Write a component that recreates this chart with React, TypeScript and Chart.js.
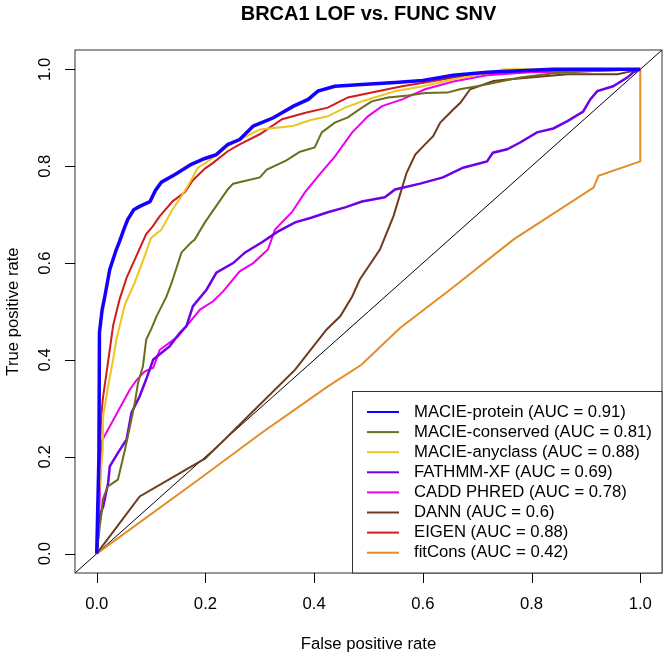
import React, { useEffect, useRef } from "react";
import { Chart, registerables } from "chart.js";

Chart.register(...registerables);

const chartTitle = "BRCA1 LOF vs. FUNC SNV";
const xAxisTitle = "False positive rate";
const yAxisTitle = "True positive rate";
const tickValues = [0, 0.2, 0.4, 0.6, 0.8, 1.0];
const tickLabels = ["0.0", "0.2", "0.4", "0.6", "0.8", "1.0"];

const seriesNames = [
  "MACIE-protein (AUC = 0.91)",
  "MACIE-conserved (AUC = 0.81)",
  "MACIE-anyclass (AUC = 0.88)",
  "FATHMM-XF (AUC = 0.69)",
  "CADD PHRED (AUC = 0.78)",
  "DANN (AUC = 0.6)",
  "EIGEN (AUC = 0.88)",
  "fitCons (AUC = 0.42)",
];
const seriesColors = [
  "#1400FF",
  "#6B6E1C",
  "#EEC41E",
  "#7000E8",
  "#EE00EE",
  "#6E3B1E",
  "#D01C1C",
  "#E38C2A",
];

const macieProteinFpr = [0, 0.004, 0.005, 0.010, 0.015, 0.024, 0.036, 0.042, 0.05, 0.057, 0.068, 0.079, 0.098, 0.108, 0.119, 0.144, 0.174, 0.199, 0.22, 0.241, 0.263, 0.288, 0.325, 0.362, 0.389, 0.407, 0.438, 0.488, 0.549, 0.6, 0.656, 0.718, 0.84, 1];
const macieProteinTpr = [0, 0.2, 0.457, 0.504, 0.532, 0.587, 0.628, 0.645, 0.67, 0.69, 0.71, 0.717, 0.727, 0.75, 0.767, 0.783, 0.804, 0.816, 0.824, 0.845, 0.855, 0.883, 0.9, 0.924, 0.938, 0.955, 0.965, 0.969, 0.973, 0.977, 0.988, 0.994, 1.0, 1];

const macieConservedFpr = [0, 0.006, 0.009, 0.011, 0.02, 0.03, 0.039, 0.052, 0.061, 0.07, 0.076, 0.085, 0.091, 0.1, 0.11, 0.119, 0.128, 0.138, 0.156, 0.174, 0.18, 0.199, 0.22, 0.241, 0.251, 0.3, 0.313, 0.349, 0.374, 0.401, 0.414, 0.438, 0.462, 0.488, 0.506, 0.536, 0.573, 0.604, 0.645, 0.668, 0.718, 0.779, 0.84, 0.902, 1];
const macieConservedTpr = [0, 0.06, 0.085, 0.112, 0.138, 0.146, 0.153, 0.215, 0.262, 0.311, 0.353, 0.387, 0.442, 0.463, 0.49, 0.51, 0.53, 0.56, 0.622, 0.643, 0.648, 0.684, 0.718, 0.752, 0.764, 0.777, 0.793, 0.812, 0.83, 0.839, 0.87, 0.89, 0.901, 0.921, 0.934, 0.942, 0.946, 0.951, 0.952, 0.959, 0.969, 0.983, 0.992, 0.996, 1];

const macieAnyclassFpr = [0, 0.004, 0.011, 0.012, 0.02, 0.03, 0.036, 0.045, 0.052, 0.07, 0.088, 0.1, 0.119, 0.138, 0.156, 0.171, 0.186, 0.199, 0.214, 0.241, 0.263, 0.3, 0.361, 0.392, 0.425, 0.457, 0.488, 0.517, 0.549, 0.6, 0.65, 0.75, 1];
const macieAnyclassTpr = [0, 0.12, 0.215, 0.284, 0.34, 0.40, 0.442, 0.483, 0.515, 0.56, 0.614, 0.652, 0.669, 0.708, 0.738, 0.766, 0.797, 0.806, 0.818, 0.841, 0.855, 0.876, 0.883, 0.895, 0.903, 0.921, 0.934, 0.944, 0.955, 0.965, 0.978, 1.0, 1];

const fathmmFpr = [0, 0.005, 0.012, 0.021, 0.024, 0.039, 0.055, 0.064, 0.079, 0.091, 0.104, 0.125, 0.134, 0.153, 0.165, 0.177, 0.202, 0.22, 0.251, 0.273, 0.304, 0.333, 0.365, 0.396, 0.425, 0.457, 0.488, 0.53, 0.549, 0.595, 0.637, 0.674, 0.718, 0.729, 0.755, 0.779, 0.81, 0.84, 0.866, 0.895, 0.908, 0.921, 0.95, 0.976, 0.987, 1];
const fathmmTpr = [0, 0.077, 0.098, 0.146, 0.18, 0.208, 0.236, 0.291, 0.325, 0.36, 0.401, 0.42, 0.428, 0.456, 0.47, 0.511, 0.545, 0.58, 0.6, 0.622, 0.643, 0.665, 0.684, 0.694, 0.705, 0.715, 0.727, 0.736, 0.752, 0.764, 0.777, 0.797, 0.81, 0.828, 0.835, 0.849, 0.87, 0.878, 0.893, 0.913, 0.938, 0.955, 0.965, 0.983, 0.994, 1];

const caddFpr = [0, 0.005, 0.009, 0.061, 0.073, 0.088, 0.104, 0.116, 0.149, 0.165, 0.19, 0.214, 0.233, 0.263, 0.288, 0.315, 0.328, 0.359, 0.383, 0.407, 0.438, 0.47, 0.499, 0.525, 0.562, 0.604, 0.656, 0.718, 0.797, 0.902, 1];
const caddTpr = [0, 0.1, 0.232, 0.339, 0.358, 0.376, 0.384, 0.421, 0.448, 0.47, 0.504, 0.521, 0.542, 0.583, 0.6, 0.628, 0.669, 0.705, 0.746, 0.779, 0.82, 0.87, 0.903, 0.924, 0.938, 0.959, 0.975, 0.988, 0.994, 0.996, 1];

const dannFpr = [0, 0.079, 0.199, 0.241, 0.304, 0.365, 0.423, 0.448, 0.47, 0.484, 0.521, 0.546, 0.57, 0.586, 0.604, 0.619, 0.632, 0.656, 0.669, 0.687, 0.73, 0.755, 0.866, 0.958, 1];
const dannTpr = [0, 0.118, 0.196, 0.242, 0.312, 0.38, 0.463, 0.49, 0.531, 0.566, 0.628, 0.697, 0.786, 0.824, 0.845, 0.862, 0.89, 0.917, 0.931, 0.959, 0.976, 0.979, 0.99, 0.99, 1];

const eigenFpr = [0, 0.004, 0.008, 0.011, 0.018, 0.024, 0.03, 0.036, 0.042, 0.055, 0.073, 0.091, 0.103, 0.116, 0.14, 0.162, 0.177, 0.199, 0.214, 0.241, 0.263, 0.3, 0.341, 0.386, 0.425, 0.462, 0.517, 0.562, 0.604, 0.656, 0.718, 0.779, 0.866, 1];
const eigenTpr = [0, 0.15, 0.28, 0.318, 0.374, 0.421, 0.47, 0.498, 0.525, 0.57, 0.615, 0.66, 0.676, 0.697, 0.728, 0.746, 0.771, 0.795, 0.807, 0.831, 0.845, 0.866, 0.897, 0.911, 0.921, 0.942, 0.955, 0.965, 0.973, 0.983, 0.992, 0.996, 0.998, 1];

const fitConsFpr = [0, 0.18, 0.303, 0.426, 0.487, 0.558, 0.65, 0.767, 0.914, 0.923, 1.0, 1.0];
const fitConsTpr = [0, 0.147, 0.249, 0.346, 0.39, 0.466, 0.545, 0.649, 0.756, 0.78, 0.81, 1.0];

const diagonalX = [-0.04, 1.04];
const diagonalY = [-0.04, 1.04];

const seriesFpr = [macieProteinFpr, macieConservedFpr, macieAnyclassFpr, fathmmFpr, caddFpr, dannFpr, eigenFpr, fitConsFpr];
const seriesTpr = [macieProteinTpr, macieConservedTpr, macieAnyclassTpr, fathmmTpr, caddTpr, dannTpr, eigenTpr, fitConsTpr];
const seriesWidths = [3.5, 2, 2, 2.5, 2, 2, 2, 2];

const FONT = '"Liberation Sans", Arial, sans-serif';

const decorPlugin = {
  id: "decor",
  afterDraw(chart: any) {
    const ctx = chart.ctx as CanvasRenderingContext2D;
    const area = chart.chartArea;
    const xs = chart.scales.x;
    const ys = chart.scales.y;
    ctx.save();
    ctx.strokeStyle = "#333";
    ctx.lineWidth = 1;
    ctx.strokeRect(area.left, area.top, area.right - area.left, area.bottom - area.top);
    ctx.strokeStyle = "#000";
    ctx.fillStyle = "#000";
    ctx.font = `16.7px ${FONT}`;
    ctx.textAlign = "center";
    ctx.textBaseline = "middle";
    ctx.beginPath();
    tickValues.forEach((v) => {
      const px = Math.round(xs.getPixelForValue(v)) + 0.5;
      ctx.moveTo(px, area.bottom);
      ctx.lineTo(px, area.bottom + 10);
      const py = Math.round(ys.getPixelForValue(v)) + 0.5;
      ctx.moveTo(area.left, py);
      ctx.lineTo(area.left - 10, py);
    });
    ctx.stroke();
    tickValues.forEach((v, i) => {
      const px = xs.getPixelForValue(v);
      ctx.fillText(tickLabels[i], px, area.bottom + 31);
      const py = ys.getPixelForValue(v);
      ctx.save();
      ctx.translate(area.left - 30, py);
      ctx.rotate(-Math.PI / 2);
      ctx.fillText(tickLabels[i], 0, 0);
      ctx.restore();
    });
    ctx.fillText(xAxisTitle, (area.left + area.right) / 2, area.bottom + 71);
    ctx.save();
    ctx.translate(area.left - 62, (area.top + area.bottom) / 2);
    ctx.rotate(-Math.PI / 2);
    ctx.fillText(yAxisTitle, 0, 0);
    ctx.restore();
    ctx.font = `bold 20px ${FONT}`;
    ctx.fillText(chartTitle, (area.left + area.right) / 2, 14);
    const lx = 352.5;
    const ly = 391.5;
    ctx.fillStyle = "#fff";
    ctx.fillRect(lx, ly, area.right - lx, area.bottom - ly);
    ctx.strokeStyle = "#333";
    ctx.strokeRect(lx, ly, area.right - lx, area.bottom - ly);
    ctx.font = `16.7px ${FONT}`;
    ctx.textAlign = "left";
    seriesNames.forEach((name, i) => {
      const y = 412 + i * 20.1;
      ctx.strokeStyle = seriesColors[i];
      ctx.lineWidth = 2;
      ctx.beginPath();
      ctx.moveTo(367, y);
      ctx.lineTo(399, y);
      ctx.stroke();
      ctx.fillStyle = "#000";
      ctx.fillText(name, 414, y);
    });
    ctx.restore();
  },
};

export default function App() {
  const canvasRef = useRef<HTMLCanvasElement | null>(null);
  useEffect(() => {
    document.body.style.margin = "0";
    const canvas = canvasRef.current;
    if (!canvas) return;
    const datasets: any[] = seriesNames.map((name, i) => ({
      label: name,
      data: seriesFpr[i].map((x, j) => ({ x, y: seriesTpr[i][j] })),
      borderColor: seriesColors[i],
      borderWidth: seriesWidths[i],
      pointRadius: 0,
      fill: false,
      tension: 0,
      order: i,
    }));
    datasets.push({
      label: "diagonal",
      data: diagonalX.map((x, j) => ({ x, y: diagonalY[j] })),
      borderColor: "#000",
      borderWidth: 1,
      pointRadius: 0,
      fill: false,
      order: 100,
    });
    const chart = new Chart(canvas, {
      type: "line",
      data: { datasets },
      options: {
        responsive: false,
        animation: false,
        devicePixelRatio: 1,
        layout: { padding: { left: 75, top: 50, right: 2, bottom: 82 } },
        plugins: { legend: { display: false }, title: { display: false }, tooltip: { enabled: false } },
        scales: {
          x: { type: "linear", min: -0.04, max: 1.04, display: false },
          y: { type: "linear", min: -0.04, max: 1.04, display: false },
        },
      },
      plugins: [decorPlugin],
    });
    return () => chart.destroy();
  }, []);
  return (
    <div style={{ width: 664, height: 655 }}>
      <canvas ref={canvasRef} width={664} height={655} style={{ display: "block" }} />
    </div>
  );
}
